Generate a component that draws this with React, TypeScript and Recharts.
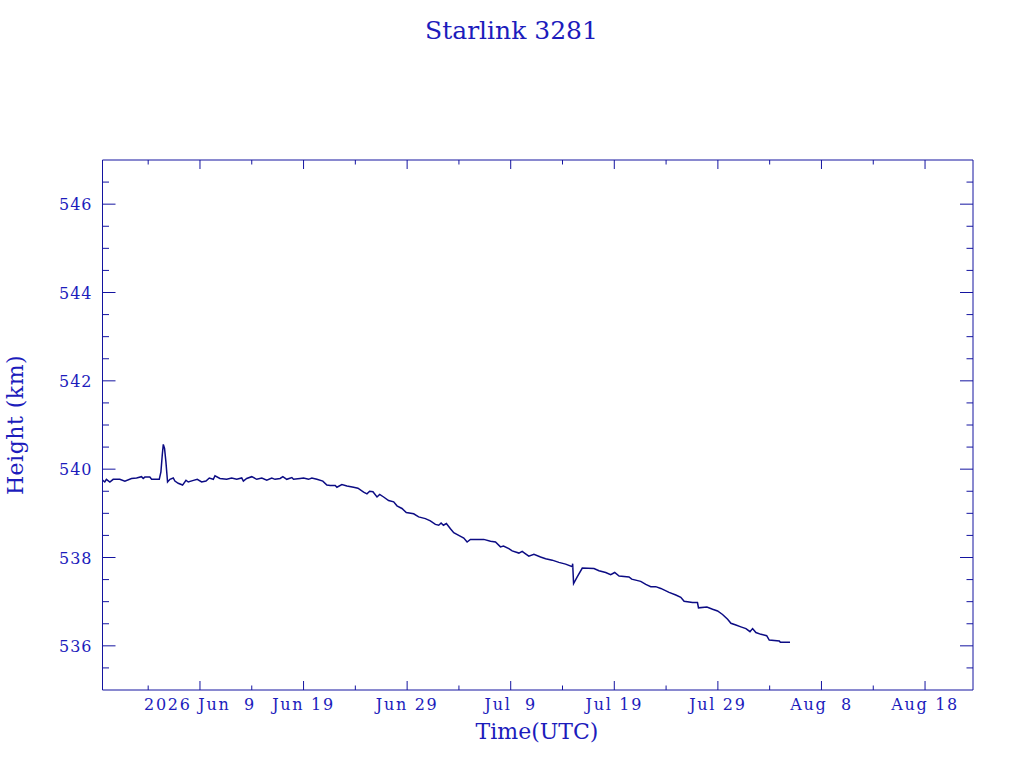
import React from 'react';
import { LineChart, Line, XAxis, YAxis } from 'recharts';

// days counted from 2026 Jun 9 00:00 UTC
const days = [
  -9.41, -9.19, -9.03, -8.7, -8.38, -7.74, -7.25, -6.61, -6.12, -5.64, -5.48, -5.32, -4.84, -4.67,
  -3.93, -3.77, -3.64, -3.54, -3.42, -3.29, -3.13, -2.9, -2.58, -2.42, -2.1, -1.68, -1.35, -1.13,
  -0.71, -0.26, 0.16, 0.58, 0.9, 1.29, 1.45, 1.93, 2.58, 3.06, 3.55, 4.03, 4.19, 4.51, 5.0, 5.48,
  5.97, 6.45, 6.93, 7.25, 7.74, 8.0, 8.38, 8.87, 9.03, 9.67, 10.0, 10.48, 10.8, 11.29, 11.86, 12.25,
  12.57, 13.06, 13.22, 13.7, 14.19, 14.83, 15.25, 15.8, 16.12, 16.38, 16.7, 17.09, 17.35, 17.73,
  18.21, 18.7, 19.02, 19.5, 19.92, 20.63, 21.11, 21.76, 22.24, 22.73, 23.05, 23.28, 23.5, 23.79,
  24.18, 24.5, 24.98, 25.47, 25.79, 26.11, 27.4, 28.05, 28.53, 29.01, 29.3, 29.82, 30.14, 30.79,
  31.11, 31.4, 31.75, 32.24, 32.88, 33.37, 34.01, 34.65, 35.3, 35.95, 35.98, 36.07, 36.42, 36.91,
  38.04, 38.52, 39.17, 39.65, 40.04, 40.46, 41.42, 41.68, 42.55, 43.04, 43.52, 44.0, 44.49, 45.29,
  45.94, 46.42, 46.74, 47.55, 48.03, 48.13, 48.94, 49.49, 49.97, 50.45, 50.94, 51.26, 51.74, 52.22,
  52.71, 53.1, 53.35, 53.67, 54.16, 54.71, 54.96, 55.93, 56.03, 56.96,
];

const heights = [
  539.75, 539.71, 539.77, 539.71, 539.77, 539.77, 539.73, 539.79, 539.8, 539.83, 539.79, 539.82, 539.82, 539.77,
  539.77, 539.94, 540.32, 540.56, 540.47, 540.17, 539.71, 539.77, 539.8, 539.73, 539.68, 539.64, 539.75, 539.71,
  539.74, 539.77, 539.71, 539.73, 539.8, 539.77, 539.85, 539.79, 539.77, 539.8, 539.77, 539.8, 539.73, 539.79, 539.83, 539.77,
  539.8, 539.75, 539.8, 539.77, 539.79, 539.83, 539.77, 539.81, 539.77, 539.79, 539.8, 539.77, 539.8, 539.77, 539.73, 539.64,
  539.63, 539.63, 539.59, 539.65, 539.62, 539.59, 539.57, 539.48, 539.44, 539.5, 539.49, 539.37, 539.43, 539.37,
  539.29, 539.26, 539.17, 539.11, 539.02, 538.99, 538.92, 538.88, 538.83, 538.75, 538.73, 538.78, 538.73, 538.77,
  538.65, 538.56, 538.5, 538.44, 538.35, 538.41, 538.41, 538.37, 538.35, 538.24, 538.26, 538.2, 538.15, 538.1,
  538.14, 538.09, 538.03, 538.07, 538.01, 537.97, 537.94, 537.89, 537.85, 537.79, 537.86, 537.41, 537.56, 537.76,
  537.75, 537.7, 537.66, 537.61, 537.66, 537.58, 537.56, 537.51, 537.46, 537.39, 537.34, 537.34, 537.3, 537.21,
  537.15, 537.1, 537.01, 536.98, 536.98, 536.86, 536.88, 536.83, 536.79, 536.71, 536.6, 536.51, 536.47, 536.43,
  536.39, 536.32, 536.39, 536.3, 536.26, 536.23, 536.13, 536.11, 536.08, 536.08,
];

const majorDays = [0, 10, 20, 30, 40, 50, 60, 70];
const minorDays = [-5, 5, 15, 25, 35, 45, 55, 65];
const dayLabels = ['2026 Jun  9', 'Jun 19', 'Jun 29', 'Jul  9', 'Jul 19', 'Jul 29', 'Aug  8', 'Aug 18'];

const majorHeights = [536, 538, 540, 542, 544, 546];
const minorHeights = [
  535.5, 536.5, 537, 537.5, 538.5, 539, 539.5, 540.5, 541, 541.5, 542.5, 543, 543.5, 544.5, 545, 545.5, 546.5,
];

const data = days.map((d, i) => ({ day: d, height: heights[i] }));

const AXIS = '#1414a0';
const TEXT = '#1c1cbc';
const LINE = '#0c0c84';
const FONT = '"DejaVu Serif", serif';

const xTicks = [...minorDays, ...majorDays].sort((a, b) => a - b);
const yTicks = [...minorHeights, ...majorHeights].sort((a, b) => a - b);

const BottomTick = (props: any) => {
  const { x, y, payload } = props;
  const i = majorDays.indexOf(payload.value);
  return (
    <g>
      <line x1={x} y1={y} x2={x} y2={y - (i >= 0 ? 9 : 4.5)} stroke={AXIS} />
      {i >= 0 && (
        <text x={x} y={y + 20} textAnchor="middle" fill={TEXT} fontSize={16} fontFamily={FONT}
          letterSpacing={1.7} style={{ whiteSpace: 'pre' }}>
          {dayLabels[i]}
        </text>
      )}
    </g>
  );
};

const TopTick = (props: any) => {
  const { x, y, payload } = props;
  const major = majorDays.includes(payload.value);
  return <line x1={x} y1={y} x2={x} y2={y + (major ? 9 : 4.5)} stroke={AXIS} />;
};

const LeftTick = (props: any) => {
  const { x, y, payload } = props;
  const major = majorHeights.includes(payload.value);
  return (
    <g>
      <line x1={x} y1={y} x2={x + (major ? 13 : 6.5)} y2={y} stroke={AXIS} />
      {major && (
        <text x={x - 10} y={y + 6} textAnchor="end" fill={TEXT} fontSize={16} fontFamily={FONT} letterSpacing={1}>
          {payload.value}
        </text>
      )}
    </g>
  );
};

const RightTick = (props: any) => {
  const { x, y, payload } = props;
  const major = majorHeights.includes(payload.value);
  return <line x1={x} y1={y} x2={x - (major ? 13 : 6.5)} y2={y} stroke={AXIS} />;
};

export default function App() {
  return (
    <div style={{ position: 'absolute', left: 0, top: 0, width: 1024, height: 768, background: '#fff' }}>
      <LineChart width={1024} height={768} data={data} margin={{ top: 150, right: 31, bottom: 48, left: 42.5 }}>
        <XAxis xAxisId="b" dataKey="day" type="number" domain={[-9.41, 74.63]} allowDataOverflow
          ticks={xTicks} interval={0} tick={<BottomTick />} tickLine={false} tickSize={0} tickMargin={0}
          height={30} axisLine={{ stroke: AXIS }} />
        <XAxis xAxisId="t" orientation="top" dataKey="day" type="number" domain={[-9.41, 74.63]} allowDataOverflow
          ticks={xTicks} interval={0} tick={<TopTick />} tickLine={false} tickSize={0} tickMargin={0}
          height={10} axisLine={{ stroke: AXIS }} />
        <YAxis yAxisId="l" type="number" domain={[535, 547]} allowDataOverflow ticks={yTicks} interval={0}
          tick={<LeftTick />} tickLine={false} tickSize={0} tickMargin={0} width={60} axisLine={{ stroke: AXIS }} />
        <YAxis yAxisId="r" orientation="right" type="number" domain={[535, 547]} allowDataOverflow ticks={yTicks}
          interval={0} tick={<RightTick />} tickLine={false} tickSize={0} tickMargin={0} width={20}
          axisLine={{ stroke: AXIS }} />
        <Line xAxisId="b" yAxisId="l" type="linear" dataKey="height" stroke={LINE} strokeWidth={1.5}
          dot={false} isAnimationActive={false} />
      </LineChart>
      <svg width={1024} height={768} style={{ position: 'absolute', left: 0, top: 0, pointerEvents: 'none' }}>
        <text x={511.5} y={39} textAnchor="middle" fill={TEXT} fontSize={25} fontFamily={FONT}>
          Starlink 3281
        </text>
        <text x={537} y={739} textAnchor="middle" fill={TEXT} fontSize={22} fontFamily={FONT}>
          Time(UTC)
        </text>
        <text transform="translate(22.5 425) rotate(-90)" textAnchor="middle" fill={TEXT} fontSize={22}
          fontFamily={FONT} letterSpacing={0.5}>
          Height (km)
        </text>
      </svg>
    </div>
  );
}
